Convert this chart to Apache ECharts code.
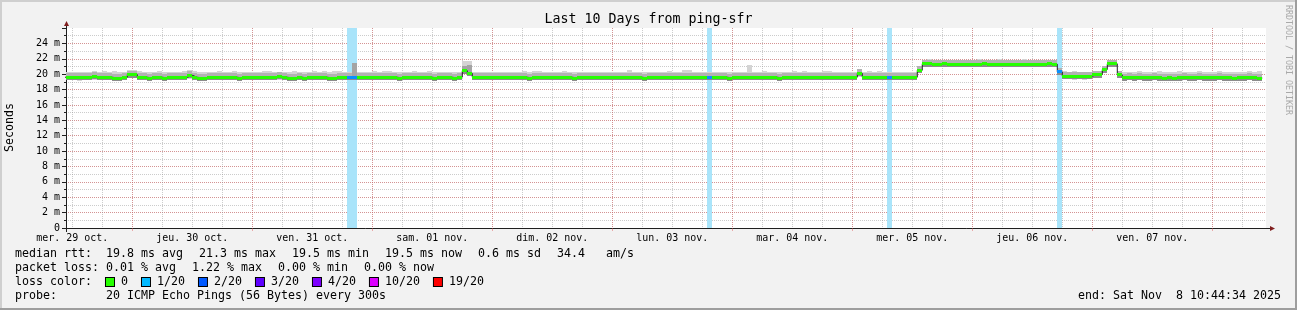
<!DOCTYPE html>
<html><head><meta charset="utf-8">
<script src="https://cdn.jsdelivr.net/npm/echarts@6/dist/echarts.min.js"></script>
<style>html,body{margin:0;padding:0;background:#f2f2f2}#c{width:1297px;height:310px}</style>
</head><body><div id="c"></div>
<script>
// Hours are counted from mer. 29 oct. 00:00 (local time). One bucket = one hour.
const firstHour = 10;
const viewStart = 10.742778;   // 10:44:34
const viewEnd = 250.742778;    // 10 days later

// median RTT per hourly bucket (ms), buckets h = 10 .. 249
const median = [
  19.6,19.6,19.6,19.6,19.6,19.6,19.7,19.6,19.6,19.6,
  19.5,19.5,19.6,19.95,19.95,19.6,19.6,19.5,19.6,19.6,
  19.5,19.6,19.6,19.6,19.6,19.85,19.6,19.5,19.5,19.6,
  19.6,19.6,19.6,19.6,19.6,19.5,19.6,19.6,19.6,19.6,
  19.6,19.6,19.6,19.7,19.6,19.5,19.5,19.6,19.5,19.6,
  19.6,19.6,19.6,19.5,19.5,19.6,19.6,19.6,19.6,19.6,
  19.6,19.6,19.6,19.6,19.6,19.6,19.6,19.5,19.6,19.6,
  19.6,19.6,19.6,19.6,19.5,19.6,19.6,19.6,19.5,19.6,
  20.45,20.1,19.6,19.6,19.6,19.6,19.6,19.6,19.6,19.6,
  19.6,19.6,19.6,19.5,19.6,19.6,19.6,19.6,19.6,19.6,
  19.6,19.6,19.5,19.6,19.6,19.6,19.6,19.6,19.6,19.6,
  19.6,19.6,19.6,19.6,19.6,19.6,19.5,19.6,19.6,19.6,
  19.6,19.6,19.6,19.6,19.6,19.6,19.6,19.6,19.6,19.6,
  19.6,19.6,19.6,19.5,19.6,19.6,19.6,19.6,19.6,19.6,
  19.6,19.6,19.6,19.5,19.6,19.6,19.6,19.6,19.6,19.6,
  19.6,19.6,19.6,19.6,19.6,19.6,19.6,19.6,19.6,20.1,
  19.6,19.6,19.6,19.6,19.6,19.6,19.6,19.6,19.6,19.6,
  19.6,20.5,21.35,21.35,21.3,21.3,21.35,21.3,21.3,21.3,
  21.3,21.3,21.3,21.3,21.35,21.3,21.3,21.3,21.3,21.3,
  21.3,21.3,21.3,21.3,21.3,21.3,21.3,21.35,21.3,20.3,
  19.75,19.75,19.7,19.75,19.7,19.75,19.95,19.95,20.6,21.35,
  21.35,19.9,19.55,19.6,19.55,19.6,19.55,19.55,19.6,19.55,
  19.5,19.55,19.5,19.55,19.6,19.55,19.55,19.6,19.55,19.55,
  19.55,19.6,19.55,19.55,19.5,19.55,19.55,19.6,19.55,19.5
];
// upper edge of the smoke (ms)
const smokeHi = [
  20.3,20.3,20.3,20.3,20.3,20.3,20.35,20.3,20.45,20.3,
  20.45,20.3,20.3,20.5,20.5,20.45,20.3,20.3,20.3,20.45,
  20.3,20.3,20.3,20.3,20.45,20.5,20.45,20.3,20.3,20.3,
  20.3,20.45,20.3,20.3,20.45,20.3,20.3,20.3,20.3,20.3,
  20.45,20.45,20.3,20.3,20.3,20.3,20.45,20.3,20.3,20.3,
  20.45,20.3,20.45,20.3,20.45,20.45,20.3,20.3,20.3,20.3,
  20.3,20.3,20.45,20.3,20.45,20.45,20.3,20.3,20.3,20.3,
  20.45,20.3,20.3,20.45,20.3,20.3,20.3,20.3,20.3,20.3,
  21.7,21.7,20.3,20.3,20.3,20.3,20.3,20.3,20.3,20.3,
  20.3,20.3,20.45,20.3,20.45,20.45,20.3,20.3,20.3,20.3,
  20.45,20.3,20.3,20.3,20.3,20.3,20.3,20.3,20.3,20.3,
  20.3,20.3,20.3,20.55,20.3,20.3,20.3,20.3,20.3,20.3,
  20.3,20.45,20.3,20.3,20.55,20.55,20.3,20.3,20.3,20.3,
  20.3,20.3,20.3,20.3,20.3,20.3,20.3,21.2,20.3,20.3,
  20.45,20.3,20.3,20.3,20.3,20.3,20.45,20.3,20.45,20.3,
  20.3,20.3,20.45,20.45,20.3,20.3,20.3,20.3,20.3,20.5,
  20.3,20.45,20.3,20.45,20.3,20.3,20.3,20.3,20.3,20.3,
  20.3,21.0,21.9,21.95,21.9,21.9,21.9,21.9,21.9,21.9,
  21.9,21.9,21.9,21.95,21.9,21.9,21.9,21.95,21.9,21.9,
  21.9,21.9,21.95,21.9,21.9,21.9,21.9,21.9,21.9,20.8,
  20.35,20.3,20.45,20.3,20.3,20.3,20.4,20.4,21.0,21.8,
  21.8,20.35,20.3,20.3,20.3,20.45,20.3,20.3,20.3,20.45,
  20.3,20.3,20.3,20.45,20.3,20.3,20.3,20.45,20.3,20.3,
  20.3,20.45,20.3,20.3,20.3,20.3,20.3,20.45,20.3,20.45
];
// lower edge of the smoke (ms)
const smokeLo = [
  19.2,19.2,19.2,19.15,19.2,19.2,19.2,19.2,19.2,19.2,
  19.15,19.15,19.2,19.45,19.45,19.2,19.2,19.15,19.2,19.2,
  19.15,19.2,19.2,19.2,19.2,19.4,19.2,19.15,19.15,19.2,
  19.2,19.2,19.2,19.2,19.2,19.15,19.2,19.2,19.2,19.2,
  19.2,19.2,19.2,19.2,19.2,19.15,19.15,19.2,19.15,19.2,
  19.2,19.2,19.2,19.15,19.15,19.2,19.2,19.2,19.2,19.2,
  19.2,19.2,19.2,19.2,19.2,19.2,19.2,19.15,19.2,19.2,
  19.2,19.2,19.2,19.2,19.15,19.2,19.2,19.2,19.15,19.2,
  20.1,19.7,19.2,19.2,19.2,19.2,19.2,19.2,19.2,19.2,
  19.2,19.2,19.2,19.15,19.2,19.2,19.2,19.2,19.2,19.2,
  19.2,19.2,19.15,19.2,19.2,19.2,19.2,19.2,19.2,19.2,
  19.2,19.2,19.2,19.2,19.2,19.2,19.15,19.2,19.2,19.2,
  19.2,19.2,19.2,19.2,19.2,19.2,19.2,19.2,19.2,19.2,
  19.2,19.2,19.2,19.15,19.2,19.2,19.2,19.2,19.2,19.2,
  19.2,19.2,19.2,19.15,19.2,19.2,19.2,19.2,19.2,19.2,
  19.2,19.2,19.2,19.2,19.2,19.2,19.2,19.2,19.2,19.6,
  19.2,19.2,19.2,19.2,19.2,19.2,19.2,19.2,19.2,19.2,
  19.2,20.15,20.95,20.95,20.9,20.9,20.95,20.9,20.9,20.9,
  20.9,20.9,20.9,20.95,20.9,20.9,20.9,20.9,20.9,20.9,
  20.9,20.9,20.9,20.9,20.9,20.9,20.9,20.95,20.9,19.9,
  19.35,19.35,19.3,19.35,19.3,19.35,19.55,19.55,20.25,20.95,
  20.95,19.45,19.2,19.2,19.15,19.2,19.15,19.15,19.2,19.15,
  19.1,19.15,19.1,19.15,19.2,19.15,19.15,19.2,19.15,19.15,
  19.15,19.2,19.15,19.15,19.1,19.15,19.15,19.2,19.15,19.1
];
// darker smoke peaks [hour, ms]
const darkSmoke = [[68, 21.5], [90, 21.0], [91, 21.2]];
// hours with packet loss (1/20)
const lossHours = [67, 68, 139, 175, 209];

const dayLabels = ['mer. 29 oct.','jeu. 30 oct.','ven. 31 oct.','sam. 01 nov.','dim. 02 nov.',
                   'lun. 03 nov.','mar. 04 nov.','mer. 05 nov.','jeu. 06 nov.','ven. 07 nov.'];
const dayLabelHours = [12,36,60,84,108,132,156,180,204,228];
const midnightHours = [24,48,72,96,120,144,168,192,216,240];
const sixHourTicks = [];
for (let t = 12; t < viewEnd; t += 6) sixHourTicks.push(t);

const lossPalette = [['0','#26ff00'],['1/20','#00b8ff'],['2/20','#0059ff'],['3/20','#5e00ff'],
                     ['4/20','#7e00ff'],['10/20','#dd00ff'],['19/20','#ff0000']];
const statsItems1 = ['median rtt:  19.8 ms avg', '21.3 ms max', '19.5 ms min', '19.5 ms now', '0.6 ms sd', '34.4   am/s'];
const statsItems2 = ['packet loss: 0.01 % avg', '1.22 % max', '0.00 % min', '0.00 % now'];
const probeLine = 'probe:       20 ICMP Echo Pings (56 Bytes) every 300s';
const endLine = 'end: Sat Nov  8 10:44:34 2025';
const titleText = 'Last 10 Days from ping-sfr';

const MONO = '"DejaVu Sans Mono"';
const hours = median.map((_, i) => firstHour + i);

function clipR(params, x0, y0, x1, y1) {
  const r = {x: Math.round(x0), y: Math.round(y0)};
  r.width = Math.round(x1) - r.x; r.height = Math.round(y1) - r.y;
  return echarts.graphic.clipRectByRect(r, {
    x: params.coordSys.x, y: params.coordSys.y,
    width: params.coordSys.width, height: params.coordSys.height});
}

const chart = echarts.init(document.getElementById('c'), null, {renderer: 'canvas'});

const gapRich = {g: {width: 16, height: 10}};
let richText = 'loss color:  ';
const rich = {};
lossPalette.forEach(([lab, col], i) => {
  rich['b' + i] = {width: 8, height: 8, backgroundColor: col, borderColor: '#000', borderWidth: 1, verticalAlign: 'middle'};
  richText += '{b' + i + '|} ' + lab + (i < lossPalette.length - 1 ? '  ' : '');
});

const medianLine = hours.map((h, i) => [h, median[i]]);
medianLine.push([firstHour + median.length, median[median.length - 1]]);

const textEl = (x, y, text, extra) => Object.assign({type: 'text', x, y, silent: true,
  style: Object.assign({text, font: '11.63px ' + MONO, fill: '#000', align: 'left', textAlign: 'left',
    verticalAlign: 'middle', textVerticalAlign: 'middle'}, extra || {})});

const GRID_GRAY = 'rgba(143,143,143,0.45)';
const GRID_RED = 'rgba(222,79,79,0.45)';

const option = {
  animation: false,
  backgroundColor: '#f2f2f2',
  textStyle: {fontFamily: 'DejaVu Sans Mono'},
  grid: {left: 66, top: 28, width: 1200, height: 200, show: true, backgroundColor: '#ffffff', borderWidth: 0},
  xAxis: [
    {type: 'value', position: 'bottom', min: viewStart, max: viewEnd,
     axisLine: {show: false}, axisLabel: {show: false},
     axisTick: {show: false, customValues: sixHourTicks},
     splitLine: {show: true, lineStyle: {color: GRID_GRAY, type: [1, 1], width: 1}}},
    {type: 'value', position: 'bottom', min: viewStart, max: viewEnd,
     axisLine: {show: true, lineStyle: {color: '#1f1f1f', width: 1}},
     axisTick: {show: true, length: 3, inside: false, customValues: midnightHours, lineStyle: {color: GRID_RED}},
     axisLabel: {show: true, customValues: dayLabelHours, color: '#000', fontSize: 9.97, fontFamily: 'DejaVu Sans Mono', margin: 5,
                 formatter: v => dayLabels[dayLabelHours.indexOf(Math.round(v))] || ''},
     splitLine: {show: true, lineStyle: {color: GRID_RED, type: [1, 1], width: 1}}}
  ],
  yAxis: [
    {type: 'value', position: 'left', min: 0, max: 26, interval: 1,
     axisLine: {show: false}, axisLabel: {show: false},
     axisTick: {show: true, length: 2, lineStyle: {color: '#1f1f1f'}},
     splitLine: {show: true, showMinLine: false, showMaxLine: false, lineStyle: {color: GRID_GRAY, type: [1, 1], width: 1}}},
    {type: 'value', position: 'left', min: 0, max: 26, interval: 2,
     axisLine: {show: true, lineStyle: {color: '#1f1f1f', width: 1}},
     axisTick: {show: true, length: 4, lineStyle: {color: '#1f1f1f'}},
     axisLabel: {color: '#000', fontSize: 9.97, fontFamily: 'DejaVu Sans Mono', margin: 6,
                 formatter: v => v === 0 ? '0' : (v >= 26 ? '' : v + ' m')},
     splitLine: {show: true, showMinLine: false, showMaxLine: false, lineStyle: {color: GRID_RED, type: [1, 1], width: 1}}}
  ],
  series: [
    { // packet loss background bars
      type: 'custom', xAxisIndex: 1, yAxisIndex: 1, z: 1,
      data: lossHours.map(h => [h]),
      renderItem(params, api) {
        const h = api.value(0);
        const a = api.coord([h, 26]), b = api.coord([h + 1, 0]);
        const r = clipR(params, a[0], a[1], b[0], b[1]);
        return r ? {type: 'rect', shape: r, style: {fill: '#a9e4fa'}} : null;
      }
    },
    { // smoke
      type: 'custom', xAxisIndex: 1, yAxisIndex: 1, z: 2,
      data: hours.map((h, i) => [h, smokeLo[i], smokeHi[i], median[i]]),
      renderItem(params, api) {
        const h = api.value(0), lo = api.value(1), hi = api.value(2), m = api.value(3);
        const a = api.coord([h, hi]), b = api.coord([h + 1, lo]), c = api.coord([h, m]);
        const children = [];
        const outer = clipR(params, a[0], a[1], b[0], b[1]);
        if (outer) children.push({type: 'rect', shape: outer, style: {fill: '#d4d4d4'}});
        const up = clipR(params, a[0], c[1] - 4, b[0], c[1] - 1);
        if (up) children.push({type: 'rect', shape: up, style: {fill: '#b2b2b2'}});
        const dn = clipR(params, a[0], c[1] + 1, b[0], c[1] + 3);
        if (dn) children.push({type: 'rect', shape: dn, style: {fill: '#8c8c8c'}});
        return {type: 'group', children};
      }
    },
    { // darker smoke peaks
      type: 'custom', xAxisIndex: 1, yAxisIndex: 1, z: 3,
      data: darkSmoke.map(([h, v]) => [h, v, median[h - firstHour]]),
      renderItem(params, api) {
        const h = api.value(0), v = api.value(1), m = api.value(2);
        const a = api.coord([h, v]), b = api.coord([h + 1, m]);
        const r = clipR(params, a[0], a[1], b[0], b[1]);
        return r ? {type: 'rect', shape: r, style: {fill: '#a4a4a4'}} : null;
      }
    },
    { // median line
      type: 'line', xAxisIndex: 1, yAxisIndex: 1, z: 4,
      step: 'end', symbol: 'none', data: medianLine,
      lineStyle: {color: '#202020', width: 1}
    },
    { // loss-coloured median band
      type: 'custom', xAxisIndex: 1, yAxisIndex: 1, z: 5,
      data: hours.map((h, i) => [h, median[i], lossHours.includes(h) ? 1 : 0]),
      renderItem(params, api) {
        const h = api.value(0), m = api.value(1), loss = api.value(2);
        const a = api.coord([h, m]), b = api.coord([h + 1, m]);
        const r = clipR(params, a[0], a[1] - 1.5, b[0], a[1] + 1.5);
        return r ? {type: 'rect', shape: r, style: {fill: loss ? '#0a90ff' : '#26ff00'}} : null;
      }
    }
  ],
  graphic: [
    {type: 'rect', shape: {x: 0, y: 0, width: 1297, height: 2}, style: {fill: '#cfcfcf'}, silent: true},
    {type: 'rect', shape: {x: 0, y: 0, width: 2, height: 310}, style: {fill: '#cfcfcf'}, silent: true},
    {type: 'rect', shape: {x: 0, y: 308, width: 1297, height: 2}, style: {fill: '#9e9e9e'}, silent: true},
    {type: 'rect', shape: {x: 1295, y: 0, width: 2, height: 310}, style: {fill: '#9e9e9e'}, silent: true},
    {type: 'line', shape: {x1: 1266, y1: 228.5, x2: 1271, y2: 228.5}, style: {stroke: '#1f1f1f', lineWidth: 1}},
    {type: 'line', shape: {x1: 66.5, y1: 232, x2: 66.5, y2: 25}, style: {stroke: '#1f1f1f', lineWidth: 1}},
    {type: 'polygon', shape: {points: [[64, 26], [69, 26], [66.5, 21]]}, style: {fill: '#801f1f'}},
    {type: 'polygon', shape: {points: [[1270, 226], [1270, 231], [1275, 228.5]]}, style: {fill: '#801f1f'}},
    textEl(648.5, 20, titleText, {font: '13.29px ' + MONO, align: 'center', textAlign: 'center'}),
    Object.assign(textEl(10, 127.5, 'Seconds', {align: 'center', textAlign: 'center'}), {rotation: Math.PI / 2}),
    Object.assign(textEl(1288, 60, 'RRDTOOL / TOBI OETIKER', {font: '8.3px ' + MONO, fill: '#a9a9a9', align: 'center', textAlign: 'center'}), {rotation: -Math.PI / 2}),
    textEl(15, 254, statsItems1.join('{g|}'), {rich: gapRich}),
    textEl(15, 268, statsItems2.join('{g|}'), {rich: gapRich}),
    textEl(15, 282, richText, {rich: rich}),
    textEl(15, 296, probeLine),
    textEl(1281, 296, endLine, {align: 'right', textAlign: 'right'})
  ]
};
chart.setOption(option);
</script>
</body></html>
